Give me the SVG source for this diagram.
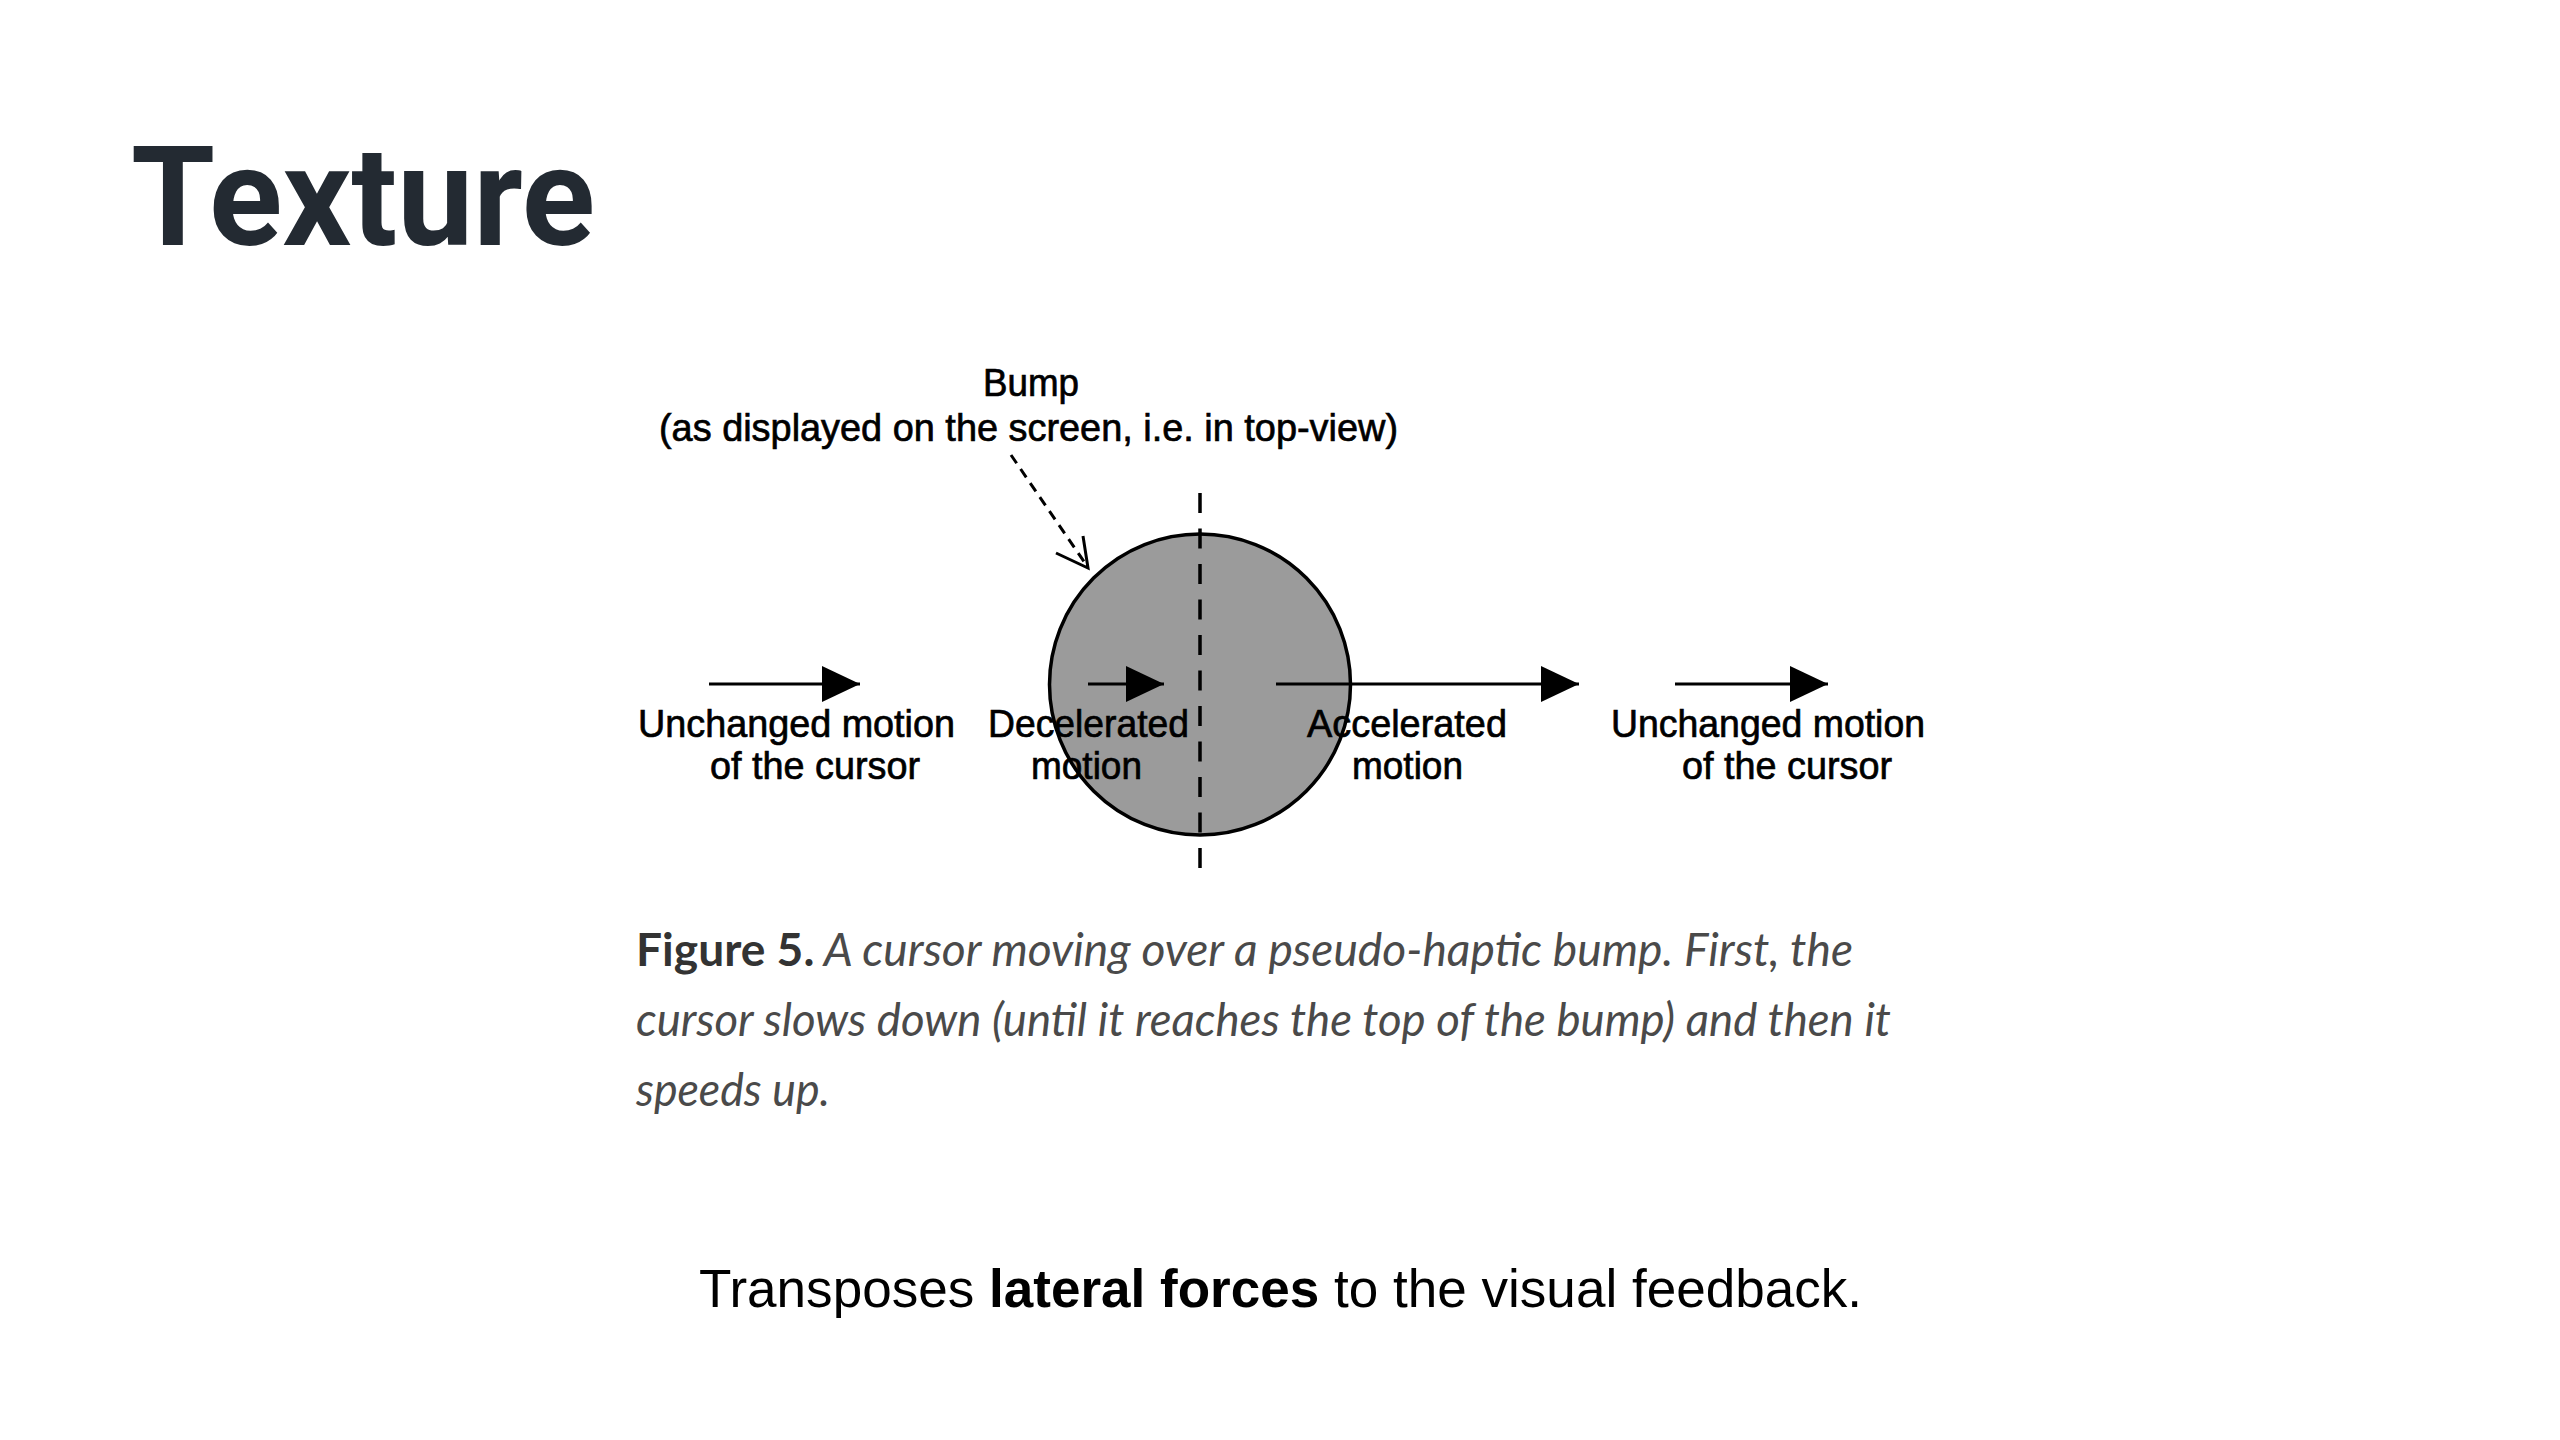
<svg xmlns="http://www.w3.org/2000/svg" width="2560" height="1440" viewBox="0 0 2560 1440">
<defs>
<style>
.title{font-family:Roboto,"Liberation Sans",sans-serif;font-weight:700;font-size:140px;fill:#232a32}
.lbl{font-family:"Liberation Sans",Arial,sans-serif;font-size:39px;fill:#000;stroke:#000;stroke-width:0.7}
.cap{font-family:Lato,"Open Sans",sans-serif;font-size:46px;font-style:italic;fill:#4a4a4a}
.capb{font-style:normal;font-weight:700;fill:#333}
.body{font-family:"Liberation Sans",Arial,sans-serif;font-size:54px;fill:#000}
.arr{stroke:#000;stroke-width:3;fill:none}
</style>
<marker id="head" markerUnits="userSpaceOnUse" markerWidth="40" markerHeight="38" refX="38" refY="18" orient="auto">
<path d="M0,0 L38,18 L0,36 Z" fill="#000"/>
</marker>
</defs>
<rect width="2560" height="1440" fill="#fff"/>
<text id="title" class="title" x="131" y="245" textLength="464" lengthAdjust="spacingAndGlyphs">Texture</text>

<g id="bump">
<circle cx="1200" cy="684.5" r="150.5" fill="#9b9b9b" stroke="#000" stroke-width="3.5"/>
</g>
<g id="axis">
<line x1="1200" y1="493" x2="1200" y2="868" stroke="#000" stroke-width="3.5" stroke-dasharray="20 15.5"/>
</g>

<g id="connectors">
<line class="arr" x1="1011" y1="455" x2="1087" y2="566" stroke-dasharray="10 7"/>
<path class="arr" d="M1056,553 L1088,568 L1083,536"/>
<line class="arr" x1="709" y1="684" x2="860" y2="684" marker-end="url(#head)"/>
<line class="arr" x1="1088" y1="684" x2="1164" y2="684" marker-end="url(#head)"/>
<line class="arr" x1="1276" y1="684" x2="1579" y2="684" marker-end="url(#head)"/>
<line class="arr" x1="1675" y1="684" x2="1828" y2="684" marker-end="url(#head)"/>
</g>

<g id="label-bump">
<text class="lbl" x="983" y="396" textLength="96" lengthAdjust="spacingAndGlyphs">Bump</text>
<text class="lbl" x="659" y="441" textLength="739" lengthAdjust="spacingAndGlyphs">(as displayed on the screen, i.e. in top-view)</text>
</g>
<g id="label-unchanged-left">
<text class="lbl" x="638" y="737" textLength="317" lengthAdjust="spacingAndGlyphs">Unchanged motion</text>
<text class="lbl" x="710" y="779" textLength="210" lengthAdjust="spacingAndGlyphs">of the cursor</text>
</g>
<g id="label-decelerated">
<text class="lbl" x="988" y="737" textLength="201" lengthAdjust="spacingAndGlyphs">Decelerated</text>
<text class="lbl" x="1031" y="779" textLength="111" lengthAdjust="spacingAndGlyphs">motion</text>
</g>
<g id="label-accelerated">
<text class="lbl" x="1307" y="737" textLength="200" lengthAdjust="spacingAndGlyphs">Accelerated</text>
<text class="lbl" x="1352" y="779" textLength="111" lengthAdjust="spacingAndGlyphs">motion</text>
</g>
<g id="label-unchanged-right">
<text class="lbl" x="1611" y="737" textLength="314" lengthAdjust="spacingAndGlyphs">Unchanged motion</text>
<text class="lbl" x="1682" y="779" textLength="210" lengthAdjust="spacingAndGlyphs">of the cursor</text>
</g>

<g id="caption">
<text class="cap" x="636" y="966" textLength="1217" lengthAdjust="spacingAndGlyphs"><tspan class="capb">Figure 5.</tspan> A cursor moving over a pseudo-haptic bump. First, the</text>
<text class="cap" x="636" y="1036" textLength="1255" lengthAdjust="spacingAndGlyphs">cursor slows down (until it reaches the top of the bump) and then it</text>
<text class="cap" x="636" y="1106" textLength="194" lengthAdjust="spacingAndGlyphs">speeds up.</text>
</g>

<g id="bottom-text">
<text class="body" x="699" y="1307" textLength="1163" lengthAdjust="spacingAndGlyphs">Transposes <tspan font-weight="700">lateral forces</tspan> to the visual feedback.</text>
</g>
</svg>
